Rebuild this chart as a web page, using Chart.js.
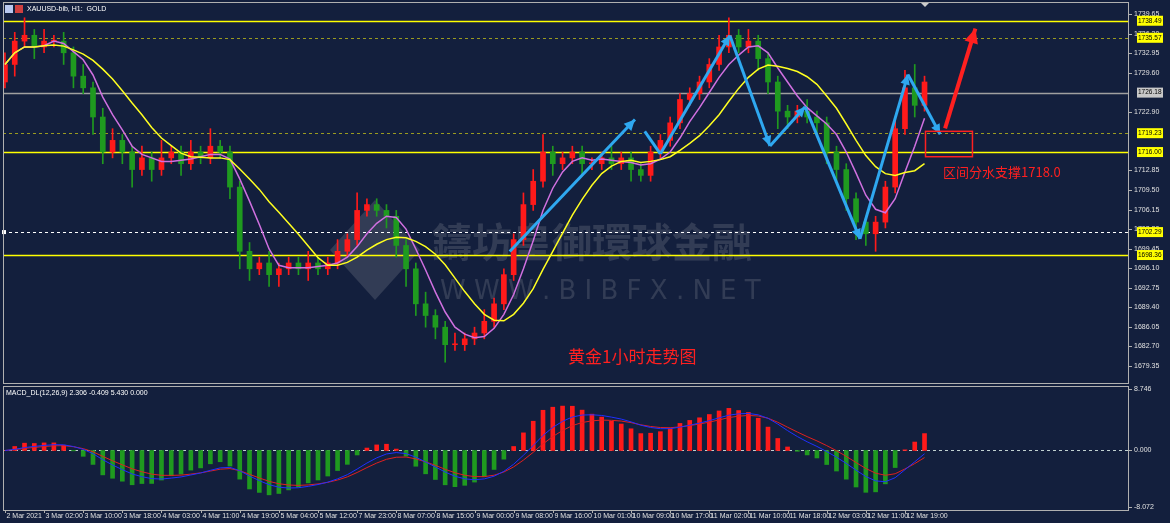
<!DOCTYPE html>
<html><head><meta charset="utf-8">
<script src="https://cdn.jsdelivr.net/npm/chart.js@4.4.0/dist/chart.umd.min.js"></script>
<style>
body{margin:0;background:#fff;width:1170px;height:523px;overflow:hidden;font-family:"Liberation Sans",sans-serif}
#wrap{position:absolute;left:0;top:0;width:1170px;height:523px;background:#131f3d}
.c{position:absolute;left:0}
</style></head><body><div id="wrap">
<div class="c" style="top:0;width:1170px;height:385px"><canvas id="main"></canvas></div>
<div class="c" style="top:385px;width:1170px;height:138px"><canvas id="macd"></canvas></div>
</div>
<script>
const closes=[1731,1735,1736,1734,1735,1735,1733,1729,1727,1722,1716,1718,1716,1713,1715,1713,1715,1716,1714,1716,1715,1717,1716,1710,1699,1696,1697,1695,1696,1697,1696,1697,1696,1697,1699,1701,1706,1707,1706,1705,1700,1696,1690,1688,1686,1683,1683,1684,1685,1687,1690,1695,1701,1707,1711,1716,1714,1715,1716,1714,1714,1715,1714,1715,1713,1712,1716,1718,1721,1725,1726,1728,1731,1734,1736,1734,1735,1732,1728,1723,1722,1723,1722,1721,1716,1713,1708,1704,1702,1704,1710,1720,1727,1724,1728];
const firstOpen=1728;
const wickUp=[2,1.5,3,1,2,1,1.5,1,2,1,1.5,2,1,1,2,1,3,1,1,2,1,3,1,1,1,1.5,1,2,1,1,1,2,1,1,2,1,3,1,1,1,1,1,1,2,1,1,2,1,1,2,1,1,1,2,2,3,1,1,1,1,1,1,2,1,1,1,1,1,1,1,1,1,1,2,3,1,2,1,1,1,1,1,2,1,1,1,1,1,1,1,1,2,3,4,1];
const wickDn=[1,2,1,2,1,1,2,2,1,3,2,1,2,3,1,2,1,1,2,1,1,1,1,2,3,2,1,2,2,1,1,2,1,1,1,1,1,1,1,2,2,3,2,2,2,3,1,1,1,1,1,1,1,1,1,1,2,1,1,2,1,1,1,1,2,1,1,1,1,1,1,1,1,1,1,1,1,2,2,3,2,1,1,2,2,2,2,3,2,3,1,1,1,2,1];
const timeLabels=["2 Mar 2021","3 Mar 02:00","3 Mar 10:00","3 Mar 18:00","4 Mar 03:00","4 Mar 11:00","4 Mar 19:00","5 Mar 04:00","5 Mar 12:00","7 Mar 23:00","8 Mar 07:00","8 Mar 15:00","9 Mar 00:00","9 Mar 08:00","9 Mar 16:00","10 Mar 01:00","10 Mar 09:00","10 Mar 17:00","11 Mar 02:00","11 Mar 10:00","11 Mar 18:00","12 Mar 03:00","12 Mar 11:00","12 Mar 19:00"];
const priceTicks=[1739.65,1736.30,1732.95,1729.60,1722.90,1712.85,1709.50,1706.15,1702.80,1699.45,1696.10,1692.75,1689.40,1686.05,1682.70,1679.35];
const macdTicks=[8.746,0,-8.072];
const levels=[{p:1738.49,c:'#ffff00',d:[],bg:'#ffff00'},{p:1735.57,c:'#9a9a20',d:[3,3],bg:'#ffff00'},{p:1726.18,c:'#a0a0a0',d:[],bg:'#c8c8c8'},{p:1719.23,c:'#9a9a20',d:[3,3],bg:'#ffff00'},{p:1716.00,c:'#ffff00',d:[],bg:'#ffff00'},{p:1702.29,c:'#ffffff',d:[3,3],bg:'#ffff00'},{p:1698.36,c:'#ffff00',d:[],bg:'#ffff00'}];
const blueA=[[51.6,1698.95],[64.4,1721.56]];
const blueB=[[65.4,1719.55],[67.0,1715.70],[74.1,1735.97],[78.2,1717.04],[81.8,1723.74],[87.4,1701.12],[92.3,1729.27],[95.6,1719.05]];
const redArrow=[[96.1,1720.05],[99.2,1737.14]];
const redBox=[94.1,98.9,1719.55,1715.2];
const maSlow=10, maFast=5, macdFast=6, macdSlow=13, sigA=6, sigB=9;

const opens=closes.map((c,i)=>i?closes[i-1]:firstOpen);
const body=[],wick=[],bcol=[];
closes.forEach((c,i)=>{const o=opens[i];body.push({x:i,y:[o,c===o?c+0.15:c]});
 wick.push({x:i,y:[Math.min(o,c)-wickDn[i],Math.max(o,c)+wickUp[i]]});bcol.push(c>=o?'#ff1a1a':'#1f9a1f');});
function sma(n){return closes.map((c,i)=>{const s=closes.slice(Math.max(0,i-n+1),i+1);return {x:i,y:s.reduce((a,b)=>a+b,0)/s.length};});}
function ema(arr,n){const k=2/(n+1);let e=arr[0];return arr.map(v=>e=v*k+e*(1-k));}
const ef=ema(closes,macdFast),es=ema(closes,macdSlow);
const macd=closes.map((c,i)=>ef[i]-es[i]);
const sa=ema(macd,sigA),sb=ema(macd,sigB);
const X={type:'linear',min:-0.2,max:114.8,offset:false,display:false};
const fixW=s=>{s.width=42};
const LF='7px "Liberation Sans", Arial, sans-serif';

function arrowHead(ctx,x1,y1,x2,y2,sz){const a=Math.atan2(y2-y1,x2-x1);ctx.beginPath();ctx.moveTo(x2,y2);
 ctx.lineTo(x2-sz*Math.cos(a-0.45),y2-sz*Math.sin(a-0.45));ctx.lineTo(x2-sz*Math.cos(a+0.45),y2-sz*Math.sin(a+0.45));ctx.closePath();ctx.fill();}
function yLabels(ctx,a,y,ticks,dec){ctx.fillStyle='#e0e0e0';ctx.strokeStyle='#b0b0b0';ctx.font=LF;ctx.textBaseline='middle';
 ticks.forEach(v=>{const py=Math.round(y.getPixelForValue(v))+0.5;ctx.beginPath();ctx.moveTo(a.right,py);ctx.lineTo(a.right+4,py);ctx.stroke();ctx.fillText(v.toFixed(dec),a.right+6,py);});}

const mainPlug={id:'mp',beforeDatasetsDraw(ch){const {ctx,chartArea:a,scales:{x,y}}=ch;ctx.save();
 ctx.globalAlpha=0.18;ctx.fillStyle='#c0c0c0';ctx.beginPath();ctx.moveTo(375,200);ctx.lineTo(420,250);ctx.lineTo(375,300);ctx.lineTo(330,250);ctx.closePath();ctx.fill();
 ctx.font='bold 40px "Noto Sans CJK TC"';ctx.textBaseline='middle';ctx.fillText('鑄坊皇御環球金融',432,242);
 ctx.font='26px "DejaVu Sans"';ctx.fillText('W W W . B I B F X . N E T',440,292);ctx.globalAlpha=1;
 levels.forEach(l=>{ctx.strokeStyle=l.c;ctx.lineWidth=l.d.length?1:1.5;ctx.setLineDash(l.d);const py=Math.round(y.getPixelForValue(l.p))+0.5;ctx.beginPath();ctx.moveTo(a.left,py);ctx.lineTo(a.right,py);ctx.stroke();});
 ctx.setLineDash([]);ctx.restore();},
 afterDraw(ch){const {ctx,chartArea:a,scales:{x,y}}=ch;ctx.save();
 const P=p=>[x.getPixelForValue(p[0]),y.getPixelForValue(p[1])];
 ctx.strokeStyle='#2fa8f0';ctx.fillStyle='#2fa8f0';ctx.lineWidth=3;
 let [ax,ay]=P(blueA[0]),[bx,by]=P(blueA[1]);ctx.beginPath();ctx.moveTo(ax,ay);ctx.lineTo(bx,by);ctx.stroke();arrowHead(ctx,ax,ay,bx,by,12);
 for(let i=1;i<blueB.length;i++){const [x1,y1]=P(blueB[i-1]),[x2,y2]=P(blueB[i]);ctx.beginPath();ctx.moveTo(x1,y1);ctx.lineTo(x2,y2);ctx.stroke();if(i>1)arrowHead(ctx,x1,y1,x2,y2,11);}
 ctx.strokeStyle='#ff2020';ctx.fillStyle='#ff2020';[ax,ay]=P(redArrow[0]);[bx,by]=P(redArrow[1]);ctx.lineWidth=4;ctx.beginPath();ctx.moveTo(ax,ay);ctx.lineTo(bx,by);ctx.stroke();arrowHead(ctx,ax,ay,bx,by,16);
 ctx.lineWidth=1.5;const rx1=x.getPixelForValue(redBox[0]),rx2=x.getPixelForValue(redBox[1]),ry1=y.getPixelForValue(redBox[2]),ry2=y.getPixelForValue(redBox[3]);ctx.strokeRect(rx1,ry1,rx2-rx1,ry2-ry1);
 ctx.font='13px "Noto Sans CJK SC"';ctx.textBaseline='middle';ctx.fillText('区间分水支撑1718.0',943,172);
 ctx.font='17px "Noto Sans CJK SC"';ctx.fillText('黄金1小时走势图',568,357);
 ctx.fillStyle='#ffffff';ctx.font=LF;ctx.fillText('XAUUSD-bib, H1:  GOLD',27,9);
 ctx.fillStyle='#b8c8f0';ctx.fillRect(5,5,8,8);ctx.fillStyle='#d04040';ctx.fillRect(15,5,8,8);
 ctx.fillStyle='#cccccc';ctx.beginPath();ctx.moveTo(921,3);ctx.lineTo(929,3);ctx.lineTo(925,7);ctx.fill();
 ctx.lineWidth=1;yLabels(ctx,a,y,priceTicks,2);
 ctx.font='6.5px "Liberation Sans", Arial';levels.forEach(l=>{const py=y.getPixelForValue(l.p);ctx.fillStyle=l.bg;ctx.fillRect(a.right+9,py-5,26,10);ctx.fillStyle='#000';ctx.fillText(l.p.toFixed(2),a.right+10,py);});
 ctx.fillStyle='#fff';ctx.fillRect(a.left-1,y.getPixelForValue(1702.29)-2,4,4);
 ctx.strokeStyle='#b0b0b0';ctx.lineWidth=1;ctx.strokeRect(a.left+0.5,a.top+0.5,a.right-a.left,a.bottom-a.top);
 ctx.restore();}};

const Yopt=(mn,mx)=>({position:'right',min:mn,max:mx,afterFit:fixW,grid:{display:false},border:{display:false},ticks:{display:false}});
new Chart(document.getElementById('main'),{type:'bar',
 data:{datasets:[
  {type:'line',data:sma(maSlow),borderColor:'#ffff20',borderWidth:1.5,pointRadius:0,order:1},
  {type:'line',data:sma(maFast),borderColor:'#d070e0',borderWidth:1.5,pointRadius:0,order:2},
  {data:wick,backgroundColor:bcol,barThickness:1,grouped:false,order:4},
  {data:body,backgroundColor:bcol,barThickness:5,grouped:false,order:3}]},
 options:{responsive:true,maintainAspectRatio:false,animation:false,layout:{padding:{left:3,top:2,bottom:2}},
  plugins:{legend:{display:false},tooltip:{enabled:false}},
  scales:{x:X,y:Yopt(1676.44,1741.7)}},
 plugins:[mainPlug]});

const macdPlug={id:'mc',beforeDatasetsDraw(ch){const {ctx,chartArea:a,scales:{y}}=ch;ctx.save();ctx.strokeStyle='#c0d0d0';ctx.setLineDash([3,3]);
 const py=Math.round(y.getPixelForValue(0))+0.5;ctx.beginPath();ctx.moveTo(a.left,py);ctx.lineTo(a.right,py);ctx.stroke();ctx.restore();},
 afterDraw(ch){const {ctx,chartArea:a,scales:{x,y}}=ch;ctx.save();ctx.strokeStyle='#b0b0b0';ctx.lineWidth=1;ctx.strokeRect(a.left+0.5,a.top+0.5,a.right-a.left,a.bottom-a.top);
 yLabels(ctx,a,y,macdTicks,3);
 ctx.fillStyle='#fff';ctx.font=LF;ctx.textBaseline='middle';ctx.fillText('MACD_DL(12,26,9) 2.306 -0.409 5.430 0.000',6,a.top+7);
 ctx.fillStyle='#e0e0e0';ctx.textBaseline='top';timeLabels.forEach((t,i)=>{const px=Math.round(x.getPixelForValue(i*4))+0.5;ctx.strokeStyle='#b0b0b0';ctx.beginPath();ctx.moveTo(px,a.bottom);ctx.lineTo(px,a.bottom+3);ctx.stroke();ctx.fillText(t,px+1,a.bottom+3);});
 ctx.restore();}};
new Chart(document.getElementById('macd'),{type:'bar',
 data:{datasets:[
  {type:'line',data:sa.map((v,i)=>({x:i,y:v})),borderColor:'#2030ff',borderWidth:1,pointRadius:0},
  {type:'line',data:sb.map((v,i)=>({x:i,y:v})),borderColor:'#e02020',borderWidth:1,pointRadius:0},
  {data:macd.map((v,i)=>({x:i,y:v})),backgroundColor:macd.map(v=>v>=0?'#ff1a1a':'#1f9a1f'),barThickness:4}]},
 options:{responsive:true,maintainAspectRatio:false,animation:false,layout:{padding:{left:3,top:1,bottom:13}},
  plugins:{legend:{display:false},tooltip:{enabled:false}},
  scales:{x:X,y:Yopt(-8.46,9.17)}},
 plugins:[macdPlug]});
</script></body></html>
